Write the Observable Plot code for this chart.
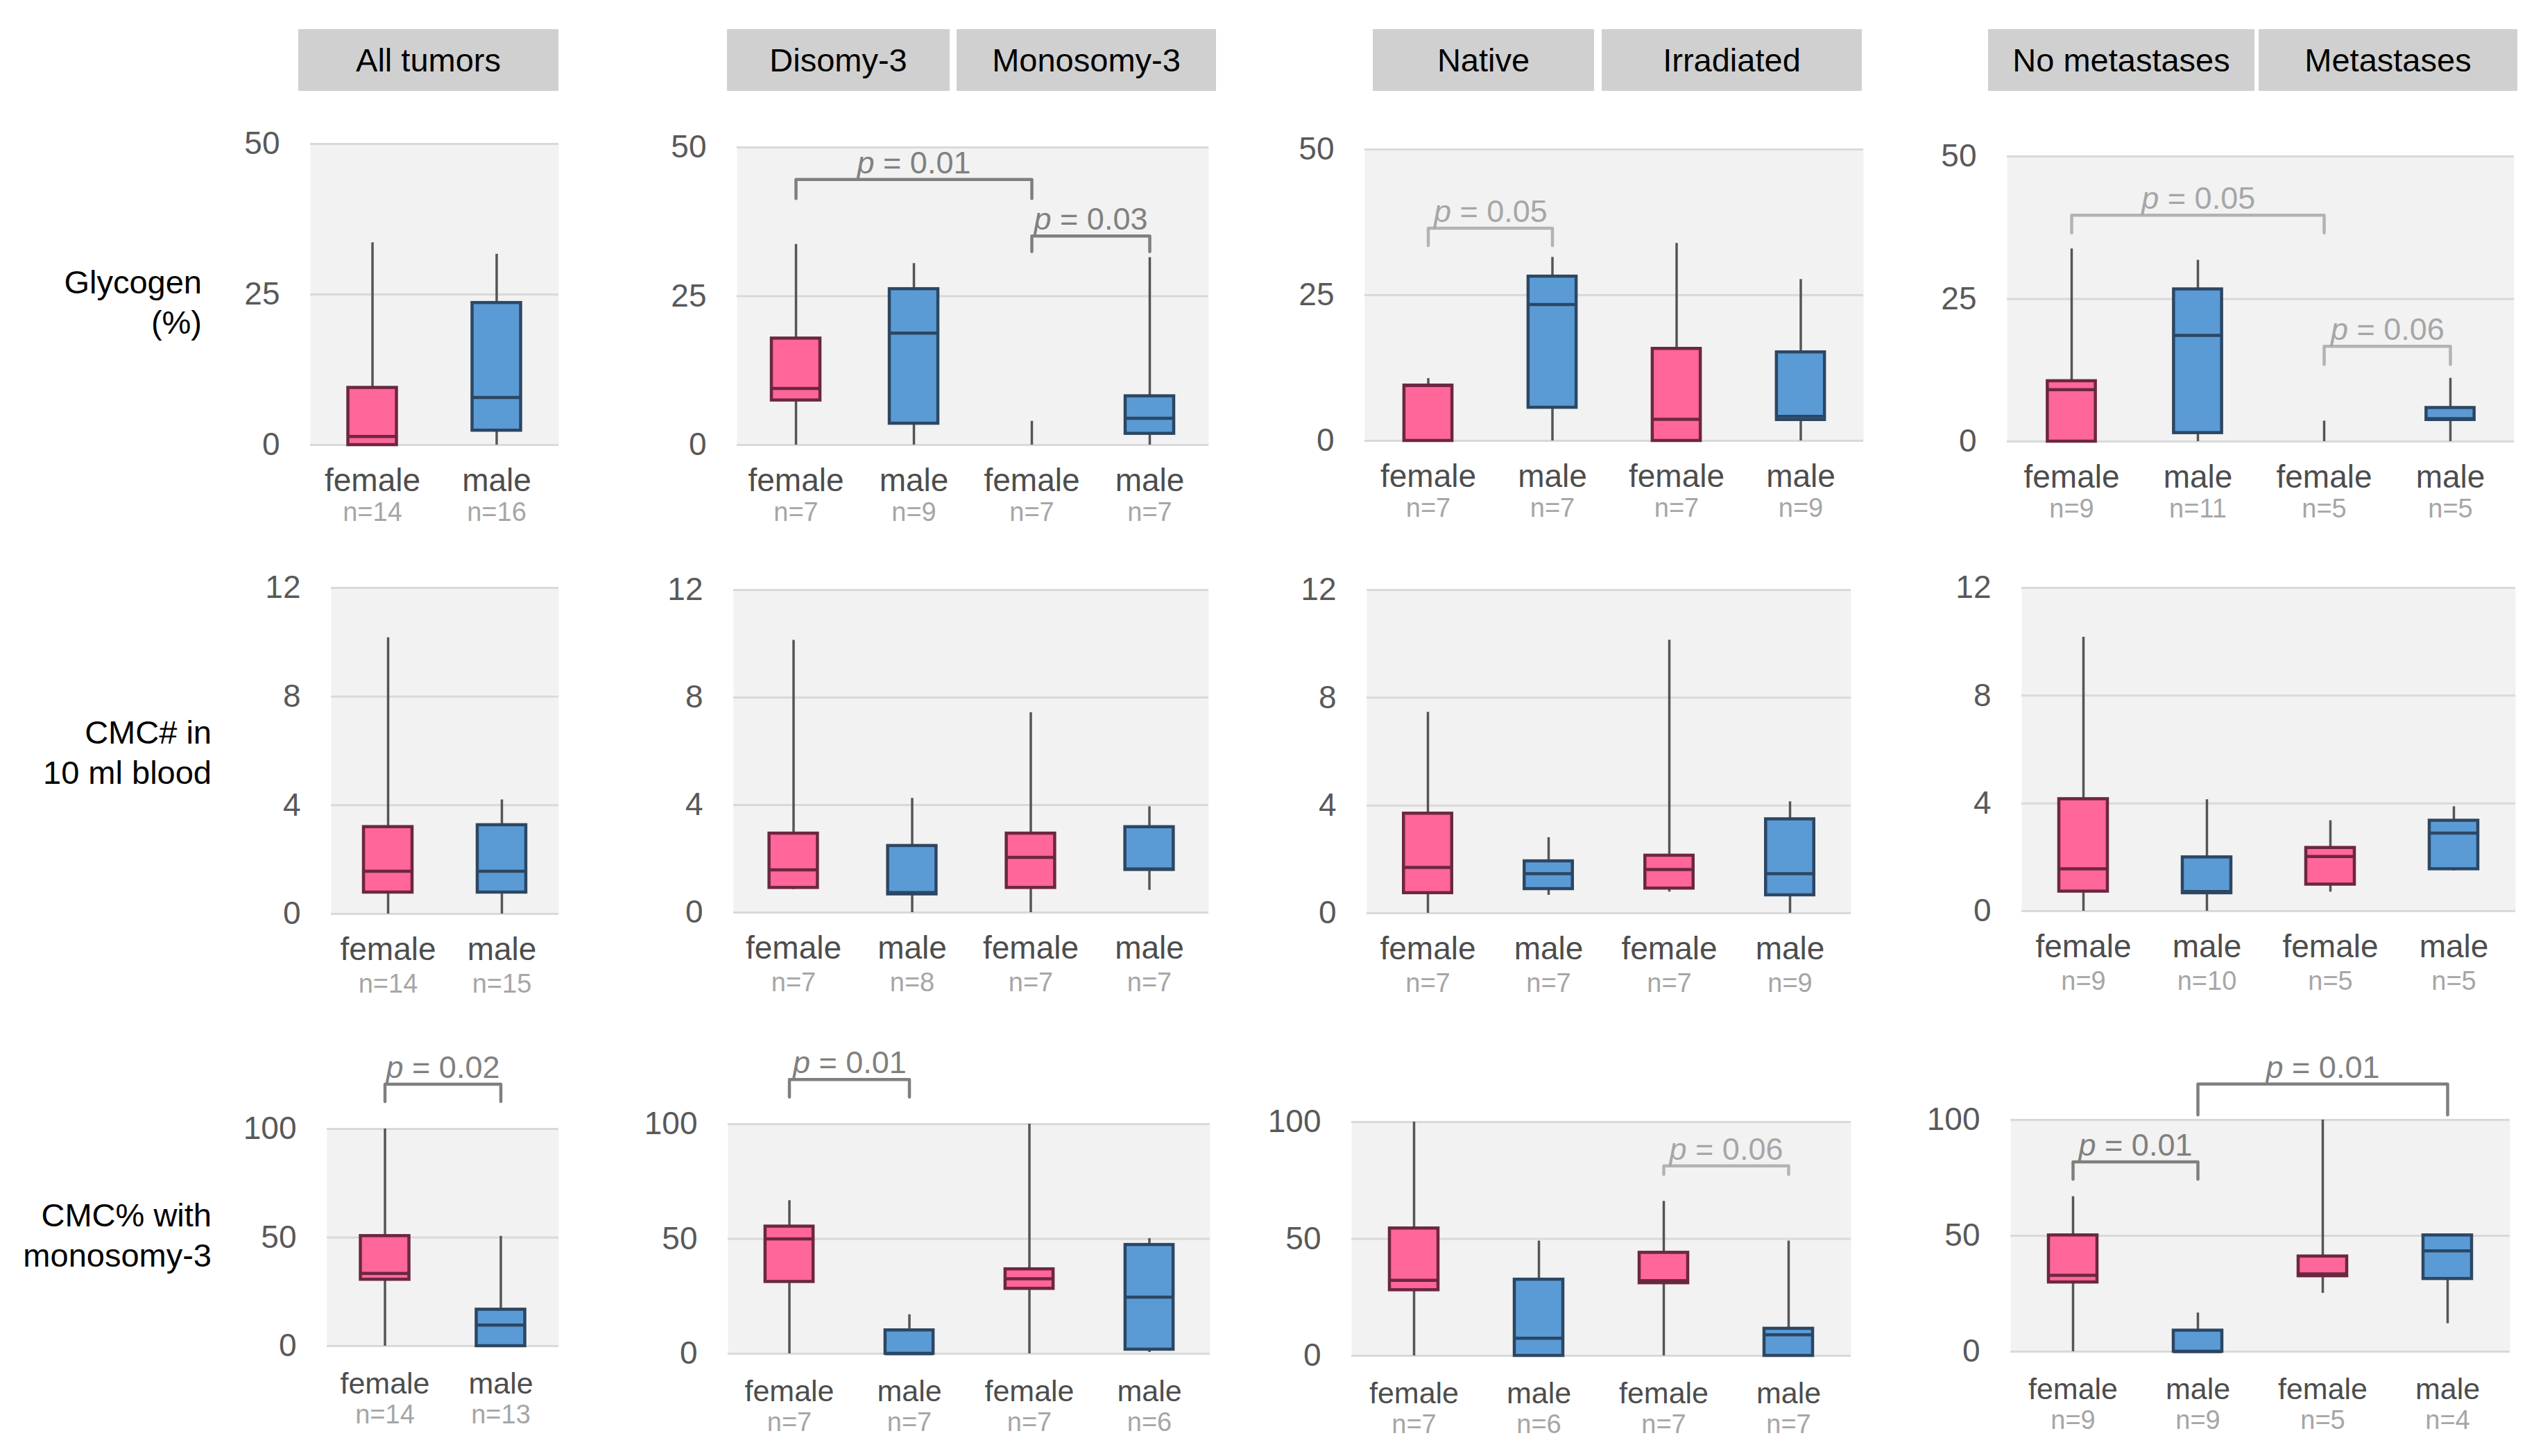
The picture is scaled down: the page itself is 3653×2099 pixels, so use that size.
<!DOCTYPE html>
<html><head><meta charset="utf-8">
<script src="https://cdn.jsdelivr.net/npm/d3@7"></script>
<script src="https://cdn.jsdelivr.net/npm/@observablehq/plot@0.6"></script>
<style>
html,body{margin:0;padding:0;background:#fff;}
#root{position:relative;width:3653px;height:2099px;overflow:hidden;font-family:Arial,"Liberation Sans",sans-serif;}
.hdr{position:absolute;background:#d0d0d0;color:#000;font-size:47px;display:flex;align-items:center;justify-content:center;}
.rowlab{position:absolute;text-align:right;font-size:47px;line-height:58px;color:#000;white-space:nowrap;}
.panel{position:absolute;}
</style></head><body><div id="root"></div>
<script>
// ---------- data ----------
const groups = ["All tumors","Disomy-3","Monosomy-3","Native","Irradiated","No metastases","Metastases"];
const sexes = ["female","male"];
const metrics = ["glycogen","cmcCount","cmcPercent"];
const rowLabels = [["Glycogen","(%)"],["CMC# in","10 ml blood"],["CMC% with","monosomy-3"]];
const yTicks = [[0,25,50],[0,4,8,12],[0,50,100]];

// [group, sex, n, min, q1, median, q3, max]
const glycogen = [
  ["All tumors","female",14, 0,0,1.4,9.5,33.6],
  ["All tumors","male",16, 0,2.4,7.9,23.6,31.7],
  ["Disomy-3","female",7, 0,7.5,9.5,17.9,33.7],
  ["Disomy-3","male",9, 0,3.6,18.8,26.2,30.5],
  ["Monosomy-3","female",7, 0,0,0,0,4.0],
  ["Monosomy-3","male",7, 0,1.9,4.5,8.2,31.5],
  ["Native","female",7, 0,0,9.5,9.5,10.7],
  ["Native","male",7, 0,5.7,23.4,28.2,31.5],
  ["Irradiated","female",7, 0,0,3.7,15.8,33.9],
  ["Irradiated","male",9, 0,3.6,4.2,15.2,27.7],
  ["No metastases","female",9, 0,0,9.1,10.6,33.8],
  ["No metastases","male",11, 0,1.5,18.6,26.7,31.8],
  ["Metastases","female",5, 0,0,0,0,3.6],
  ["Metastases","male",5, 0,3.8,4.0,5.9,11.1]
];
const cmcCount = [
  ["All tumors","female",14, 0,0.79,1.57,3.2,10.17],
  ["All tumors","male",15, 0,0.79,1.57,3.27,4.2],
  ["Disomy-3","female",7, 0.86,0.92,1.59,2.94,10.13],
  ["Disomy-3","male",8, 0,0.68,0.74,2.48,4.25],
  ["Monosomy-3","female",7, 0,0.92,2.05,2.94,7.44],
  ["Monosomy-3","male",7, 0.83,1.59,1.62,3.18,3.94],
  ["Native","female",7, 0,0.75,1.70,3.70,7.46],
  ["Native","male",7, 0.67,0.90,1.47,1.93,2.81],
  ["Irradiated","female",7, 0.79,0.92,1.62,2.14,10.14],
  ["Irradiated","male",9, 0,0.67,1.47,3.49,4.14],
  ["No metastases","female",9, 0,0.73,1.57,4.16,10.17],
  ["No metastases","male",10, 0,0.67,0.73,2.0,4.14],
  ["Metastases","female",5, 0.71,0.99,2.03,2.35,3.36],
  ["Metastases","male",5, 1.5,1.56,2.90,3.36,3.88]
];
const cmcPercent = [
  ["All tumors","female",14, 0,30.6,33.5,50.7,100],
  ["All tumors","male",13, 0,0,9.7,16.8,50.6],
  ["Disomy-3","female",7, 0,31.3,50,55.4,66.7],
  ["Disomy-3","male",7, 0,0,0,10.2,17],
  ["Monosomy-3","female",7, 0,28.3,32.6,36.8,100],
  ["Monosomy-3","male",6, 0.6,1.8,24.6,47.4,50.2],
  ["Native","female",7, 0,28.1,32.3,54.5,100],
  ["Native","male",6, 0,0,7.5,32.6,49.1],
  ["Irradiated","female",7, 0,31.1,32.1,44.1,66.1],
  ["Irradiated","male",7, 0,0,9.0,11.6,49.1],
  ["No metastases","female",9, 0,29.9,32.9,50.2,66.9],
  ["No metastases","male",9, 0,0,0,9.1,16.7],
  ["Metastases","female",5, 25.2,32.6,33.5,41.1,100],
  ["Metastases","male",4, 12.1,31.4,43.5,50.2,50.2]
];
// [metric, groupA, sexA, groupB, sexB, bracket level, leg end, p, emphasis]
const pValues = [
  ["glycogen","Disomy-3","female","Monosomy-3","female",44.6,41.4,"0.01","dark"],
  ["glycogen","Monosomy-3","female","Monosomy-3","male",35.1,32.5,"0.03","dark"],
  ["glycogen","Native","female","Native","male",36.5,33.5,"0.05","light"],
  ["glycogen","No metastases","female","Metastases","female",39.7,36.6,"0.05","light"],
  ["glycogen","Metastases","female","Metastases","male",16.7,13.5,"0.06","light"],
  ["cmcPercent","All tumors","female","All tumors","male",120.6,112.6,"0.02","dark"],
  ["cmcPercent","Disomy-3","female","Disomy-3","male",119.4,111.8,"0.01","dark"],
  ["cmcPercent","Irradiated","female","Irradiated","male",81.2,77.6,"0.06","light"],
  ["cmcPercent","No metastases","female","No metastases","male",81.9,74.4,"0.01","dark"],
  ["cmcPercent","No metastases","male","Metastases","male",115.5,102.2,"0.01","dark"]
];
const tables = [glycogen, cmcCount, cmcPercent];

// ---------- layout ----------
const colGroups = [["All tumors"],["Disomy-3","Monosomy-3"],["Native","Irradiated"],["No metastases","Metastases"]];
const panelRects = [
  [[447,805,207,641],[1062,1742,212,641],[1967,2686,215,635],[2893,3624,225,636]],
  [[477,805,847,1317],[1057,1742,850,1315],[1970,2668,850,1316],[2914,3626,847,1313]],
  [[471,805,1627,1940],[1049,1744,1620,1951],[1948,2668,1617,1954],[2898,3618,1614,1948]]
];
const headerRects = [[430,805],[1048,1369],[1379,1753],[1979,2298],[2309,2684],[2866,3250],[3256,3629]];
const headerY = [42,131];
const rowLabelPos = [[291,378],[305,1027],[305,1723]];
const labelOffsets = [[66,109],[66,113],[68,111]];
const labelFont = [46,46,43];

const FILL = {female:"#ff6699", male:"#5b9bd5"};
const EDGE = {female:"#6b2742", male:"#2c4763"};
const BRACKET = {dark:"#7f7f7f", light:"#b3b3b3"};
const PTEXT = {dark:"#808080", light:"#a6a6a6"};

const root = document.getElementById("root");

groups.forEach((g,i) => {
  const [a,b] = headerRects[i];
  const d = document.createElement("div");
  d.className = "hdr";
  d.style.left = a+"px"; d.style.width = (b-a)+"px";
  d.style.top = headerY[0]+"px"; d.style.height = (headerY[1]-headerY[0])+"px";
  d.textContent = g;
  root.appendChild(d);
});

rowLabels.forEach((lines,r) => {
  const [right, top] = rowLabelPos[r];
  const d = document.createElement("div");
  d.className = "rowlab";
  d.style.left = (right-400)+"px"; d.style.width = "400px"; d.style.top = top+"px";
  d.innerHTML = lines.map(s => s.replace(/&/g,"&amp;")).join("<br>");
  root.appendChild(d);
});

function panel(r, c) {
  const [x0,x1,yt,yb] = panelRects[r][c];
  const rows = tables[r].filter(d => colGroups[c].includes(d[0])).map(d => ({
    key: d[0]+"|"+d[1], group: d[0], sex: d[1], n: d[2],
    min: d[3], q1: d[4], med: d[5], q3: d[6], max: d[7]
  }));
  const keys = rows.map(d => d.key);
  const step = (x1-x0)/keys.length;
  const inset = (step-70)/2;
  const ML = 130, MR = 12, MT = r === 2 ? 150 : 30, MB = 140;
  const br = pValues.filter(p => p[0] === metrics[r] && colGroups[c].includes(p[1])).map((p,i) => ({
    id: i, a: p[1]+"|"+p[2], b: p[3]+"|"+p[4], top: p[5], leg: p[6], label: "p = "+p[7], tone: p[8]
  }));
  const pts = br.flatMap(b => [
    {id:b.id, key:b.a, y:b.leg, color:BRACKET[b.tone]},
    {id:b.id, key:b.a, y:b.top, color:BRACKET[b.tone]},
    {id:b.id, key:b.b, y:b.top, color:BRACKET[b.tone]},
    {id:b.id, key:b.b, y:b.leg, color:BRACKET[b.tone]}
  ]);
  const ticks = yTicks[r];
  const marks = [
    Plot.frame({fill:"#f2f2f2", stroke:"none"}),
    Plot.ruleY(ticks, {stroke:"#d9d9d9", strokeWidth:3}),
    Plot.ruleX(rows, {x:"key", y1:"min", y2:"q1", stroke:"#555555", strokeWidth:3.5}),
    Plot.ruleX(rows, {x:"key", y1:"q3", y2:"max", stroke:"#555555", strokeWidth:3.5}),
    Plot.barY(rows.filter(d => d.q3 > d.q1), {x:"key", y1:"q1", y2:"q3", fill:d => FILL[d.sex], stroke:d => EDGE[d.sex], strokeWidth:4.5, insetLeft:inset, insetRight:inset}),
    Plot.tickY(rows.filter(d => d.q3 > d.q1), {x:"key", y:"med", stroke:d => EDGE[d.sex], strokeWidth:4.5, insetLeft:inset, insetRight:inset}),
    Plot.line(pts, {x:"key", y:"y", z:"id", stroke:"color", strokeWidth:4.5}),
    ...br.map(b => Plot.text([b], {x:() => b.a, y:"top", text:"label", dx:(keys.indexOf(b.b)-keys.indexOf(b.a))*step/2, dy:-9, lineAnchor:"bottom", fontSize:45, fill:PTEXT[b.tone]})),
    Plot.text(rows, {x:"key", text:"sex", frameAnchor:"bottom", dy:labelOffsets[r][0], fontSize:labelFont[r], fill:"#4d4d4d"}),
    Plot.text(rows, {x:"key", text:d => "n="+d.n, frameAnchor:"bottom", dy:labelOffsets[r][1], fontSize:38, fill:"#a6a6a6"})
  ];
  const svg = Plot.plot({
    width: x1-x0+ML+MR, height: yb-yt+MT+MB,
    marginLeft: ML, marginRight: MR, marginTop: MT, marginBottom: MB,
    style: {fontFamily:"Arial, 'Liberation Sans', sans-serif", fontSize:"46px", color:"#595959", background:"transparent", overflow:"visible"},
    x: {domain: keys, padding: 0, axis: null},
    y: {domain: [ticks[0], ticks[ticks.length-1]], ticks: ticks, tickSize: 0, tickPadding: 44, label: null},
    color: {type: "identity"},
    marks
  });
  d3.select(svg).selectAll("text").filter(function(){ return this.textContent.startsWith("p = "); }).each(function(){
    const rest = this.textContent.slice(1);
    this.textContent = "";
    d3.select(this).append("tspan").attr("font-style","italic").text("p");
    d3.select(this).append("tspan").text(rest);
  });
  const wrap = document.createElement("div");
  wrap.className = "panel";
  wrap.style.left = (x0-ML)+"px"; wrap.style.top = (yt-MT)+"px";
  wrap.appendChild(svg);
  root.appendChild(wrap);
}

for (let r = 0; r < 3; r++) for (let c = 0; c < 4; c++) panel(r, c);
</script></body></html>
